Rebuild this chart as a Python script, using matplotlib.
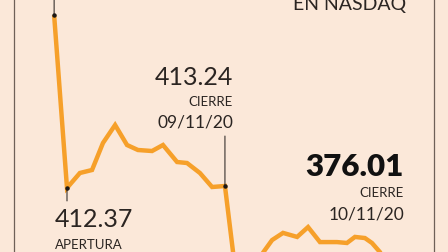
import matplotlib
matplotlib.use('Agg')
import matplotlib.pyplot as plt
from matplotlib.lines import Line2D

# horas desde la apertura del 09/11/20 (el primer punto es el cierre previo)
horas = [-0.53, 0.0, 0.53, 1.03, 1.48, 1.98, 2.47, 2.92, 3.50, 3.95, 4.53, 4.94, 5.47, 5.97, 6.50,
         7.00, 7.61, 8.44, 8.89, 9.47, 9.92, 10.41, 11.11, 11.52, 11.85, 12.26, 12.55, 13.50]
precio = [489.61, 412.37, 419.05, 420.39, 432.45, 440.48, 431.55, 429.32, 428.87, 431.55, 423.96,
          423.51, 419.05, 412.80, 413.24, 369.00, 376.60, 389.10, 392.30, 390.50, 394.90, 388.20,
          388.20, 387.80, 390.50, 390.00, 387.80, 376.01]

i_previo, i_apertura, i_cierre1, i_cierre2 = 0, 1, 14, len(precio) - 1

fondo = '#fbe8d9'
naranja = '#f6a02a'
texto = '#2b2522'

plt.rcParams['font.family'] = ['Lato', 'DejaVu Sans']

W, H = 448, 252
fig = plt.figure(figsize=(W / 100, H / 100), dpi=100, facecolor=fondo)
ax = fig.add_axes([0, 0, 1, 1])
ax.set_facecolor(fondo)
ax.axis('off')

ax.plot(horas, precio, color=naranja, lw=3.2, solid_joinstyle='miter', solid_capstyle='butt', zorder=2)
ax.set_xlim(-2.757, 15.679)
ax.set_ylim(383.77, 496.31)

# marcas de anotacion
for i, dy in [(i_previo, 30), (i_apertura, -13), (i_cierre1, 50), (i_cierre2, 41)]:
    ax.annotate('', xy=(horas[i], precio[i]), xytext=(0, dy), textcoords='offset pixels',
                arrowprops=dict(arrowstyle='-', lw=0.7, color='#1c1816', shrinkA=0, shrinkB=0), zorder=3)
    ax.plot(horas[i], precio[i], 'o', ms=2.2, color='#1c1816', zorder=4)

# bordes del recuadro
for xp in (14, 434):
    fig.add_artist(Line2D([xp / W, xp / W], [0, 1], color='#6e6058', lw=0.9))


def px(x, y):
    return x / W, 1 - y / H


fig.text(*px(406, 10), 'EN NASDAQ', ha='right', va='baseline', fontsize=14, color=texto)

fig.text(*px(233, 85), f'{precio[i_cierre1]:.2f}', ha='right', va='baseline', fontsize=18, color=texto)
fig.text(*px(233, 106), 'CIERRE', ha='right', va='baseline', fontsize=9.5, color=texto)
fig.text(*px(233, 127), '09/11/20', ha='right', va='baseline', fontsize=12.5, color=texto)

fig.text(*px(55, 227), f'{precio[i_apertura]:.2f}', ha='left', va='baseline', fontsize=18, color=texto)
fig.text(*px(55, 249), 'APERTURA', ha='left', va='baseline', fontsize=9.5, color=texto)

fig.text(*px(404, 176), f'{precio[i_cierre2]:.2f}', ha='right', va='baseline', fontsize=22.5, color='#111111', fontweight='heavy')
fig.text(*px(404, 197), 'CIERRE', ha='right', va='baseline', fontsize=9.5, color=texto)
fig.text(*px(404, 219), '10/11/20', ha='right', va='baseline', fontsize=12.5, color=texto)

fig.savefig('out.png', dpi=100, facecolor=fondo)
